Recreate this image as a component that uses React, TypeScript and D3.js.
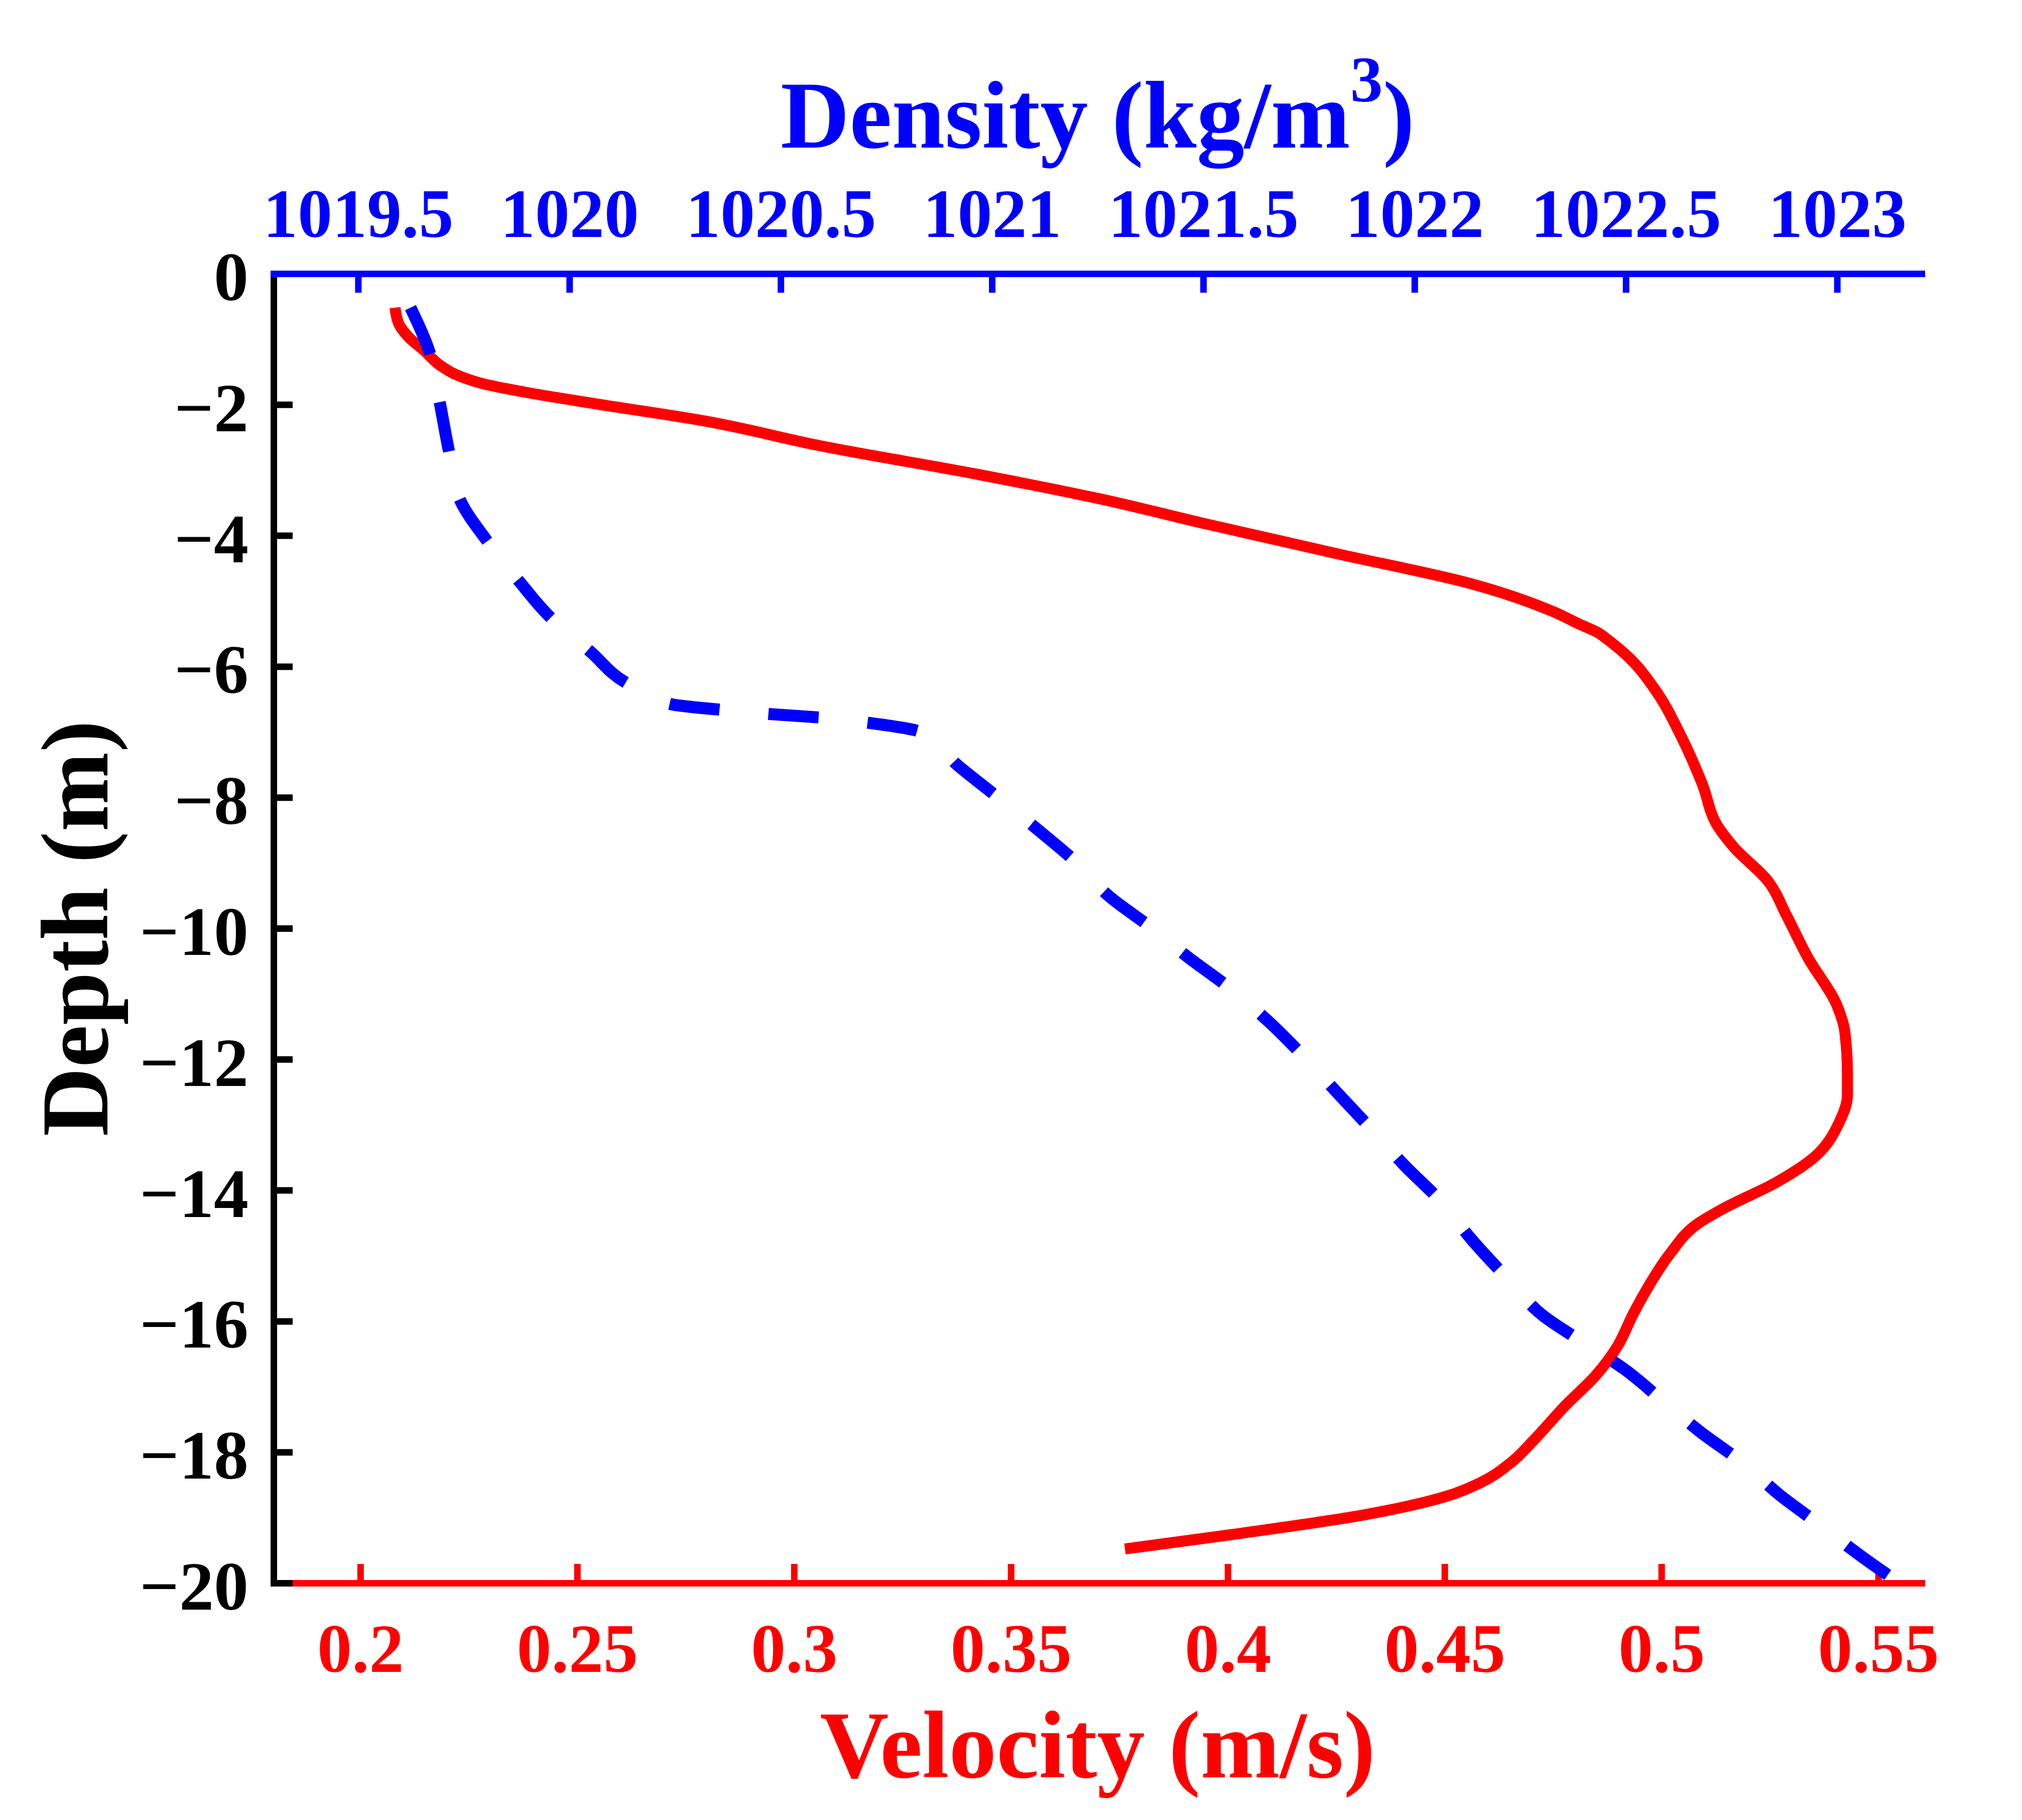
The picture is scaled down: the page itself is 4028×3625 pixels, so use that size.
import { useEffect, useRef } from 'react';
import * as d3 from 'd3';

// velocity profile (red, bottom axis)
const velocityDepth = [
  -0.52, -0.77, -0.98, -1.18, -1.4, -1.54, -1.68, -1.81, -1.97, -2.25, -2.63, -3.07, -3.44,
  -3.82, -4.28, -4.73, -5.17, -5.36, -5.47, -5.61, -5.85, -6.34, -7.06, -7.79, -8.44, -8.76, -9.28, -9.81,
  -10.45, -11.18, -11.58, -12.22, -12.55, -12.95, -13.51, -13.88, -14.28, -14.52, -14.96,
  -15.45, -15.89, -16.38, -16.82, -17.3, -17.83, -18.15, -18.47, -18.69, -18.96, -19.26, -19.48,
];
const velocityValues = [
  0.208, 0.2089, 0.2113, 0.2148, 0.2184, 0.222, 0.2282, 0.2379, 0.2525, 0.2793, 0.3061, 0.3427, 0.3705,
  0.3948, 0.4253, 0.4558, 0.4753, 0.4813, 0.485, 0.488, 0.4923, 0.4984, 0.5045, 0.5094, 0.513, 0.5167, 0.5246, 0.5289,
  0.5338, 0.5405, 0.5423, 0.5429, 0.5429, 0.5411, 0.535, 0.5265, 0.5143, 0.5082, 0.5021,
  0.4972, 0.4935, 0.4899, 0.485, 0.4777, 0.4704, 0.4655, 0.4582, 0.4497, 0.4314, 0.4009, 0.3763,
];

// density profile (blue dashed, top axis)
const densityDepth = [
  -0.52, -1.18, -1.96, -2.71, -3.48, -4.08, -4.69, -5.25, -5.77, -6.26, -6.58, -6.66, -6.73, -6.78,
  -6.87, -7.0, -7.51, -7.99, -8.48, -8.96, -9.52, -9.97, -10.45, -10.9, -11.42, -11.94, -12.51,
  -13.07, -13.64, -14.16, -14.76, -15.33, -15.92, -16.32, -16.74, -17.21, -17.71, -18.15, -18.67,
  -19.12, -19.58, -19.98,
];
const densityValues = [
  1019.624, 1019.668, 1019.693, 1019.715, 1019.743, 1019.805, 1019.88, 1019.955, 1020.049, 1020.137,
  1020.243, 1020.356, 1020.481, 1020.593, 1020.718, 1020.831, 1020.919, 1021.012, 1021.106, 1021.194,
  1021.279, 1021.373, 1021.466, 1021.56, 1021.654, 1021.735, 1021.817, 1021.898, 1021.979, 1022.061,
  1022.136, 1022.217, 1022.305, 1022.398, 1022.498, 1022.586, 1022.68, 1022.774, 1022.867, 1022.961,
  1023.055, 1023.143,
];

const depthTicks = [0, -2, -4, -6, -8, -10, -12, -14, -16, -18, -20];
const velocityTicks = [0.2, 0.25, 0.3, 0.35, 0.4, 0.45, 0.5, 0.55];
const densityTicks = [1019.5, 1020, 1020.5, 1021, 1021.5, 1022, 1022.5, 1023];

export default function App() {
  const ref = useRef<SVGSVGElement>(null);

  useEffect(() => {
    if (!ref.current) return;
    const svg = d3.select(ref.current);
    svg.selectAll('*').remove();

    const font = '"Liberation Serif", "Times New Roman", serif';
    const left = 545, right = 3828, top = 545, bottom = 3153;
    const tickFont = 138;
    const titleFont = 190;

    const x = d3.scaleLinear().domain([0.18, 0.56]).range([left, right]);
    const xd = d3.scaleLinear().domain([1019.3, 1023.2]).range([left, right]);
    const y = d3.scaleLinear().domain([0, -20]).range([top, bottom]);
    const fmt = d3.format('~g');

    const styleAxis = (g: d3.Selection<SVGGElement, unknown, null, undefined>, color: string) => {
      g.attr('font-family', font).attr('font-size', tickFont).attr('font-weight', 'bold');
      g.select('.domain').attr('stroke', color).attr('stroke-width', 13).attr('stroke-linecap', 'square');
      g.selectAll('.tick line').attr('stroke', color).attr('stroke-width', 13);
      g.selectAll('.tick text').attr('fill', color);
    };

    // bottom axis: velocity
    const gBottom = svg.append('g').attr('transform', `translate(0,${bottom})`);
    gBottom.call(
      d3.axisBottom(x).tickValues(velocityTicks).tickFormat((d) => fmt(d as number))
        .tickSizeInner(-38).tickSizeOuter(0).tickPadding(79)
    );
    styleAxis(gBottom, '#ff0000');

    // left axis: depth
    const gLeft = svg.append('g').attr('transform', `translate(${left},0)`);
    gLeft.call(
      d3.axisLeft(y).tickValues(depthTicks).tickFormat((d) => fmt(d as number))
        .tickSizeInner(-38).tickSizeOuter(0).tickPadding(50)
    );
    styleAxis(gLeft, '#000000');
    gLeft.selectAll('.tick text').attr('dy', '0.38em');

    // top axis: density
    const gTop = svg.append('g').attr('transform', `translate(0,${top})`);
    gTop.call(
      d3.axisTop(xd).tickValues(densityTicks).tickFormat((d) => fmt(d as number))
        .tickSizeInner(-38).tickSizeOuter(0).tickPadding(73)
    );
    styleAxis(gTop, '#0000ff');

    // velocity line
    const redLine = d3.line<number>()
      .x((_, i) => x(velocityValues[i]))
      .y((d) => y(d))
      .curve(d3.curveMonotoneY);
    svg.append('path')
      .attr('d', redLine(velocityDepth) || '')
      .attr('fill', 'none')
      .attr('stroke', '#ff0000')
      .attr('stroke-width', 22);

    // density line
    const blueLine = d3.line<number>()
      .x((_, i) => xd(densityValues[i]))
      .y((d) => y(d))
      .curve(d3.curveMonotoneY);
    svg.append('path')
      .attr('d', blueLine(densityDepth) || '')
      .attr('fill', 'none')
      .attr('stroke', '#0000ff')
      .attr('stroke-width', 24)
      .attr('stroke-dasharray', '100,98');

    // titles
    const cx = (left + right) / 2;
    const dTitle = svg.append('text')
      .attr('x', cx).attr('y', 294)
      .attr('text-anchor', 'middle')
      .attr('font-family', font).attr('font-weight', 'bold').attr('font-size', titleFont)
      .attr('fill', '#0000ff');
    dTitle.append('tspan').text('Density (kg/m');
    dTitle.append('tspan').attr('dy', -92).attr('font-size', 130).text('3');
    dTitle.append('tspan').attr('dy', 92).text(')');

    svg.append('text')
      .attr('x', cx).attr('y', 3540)
      .attr('text-anchor', 'middle')
      .attr('font-family', font).attr('font-weight', 'bold').attr('font-size', titleFont)
      .attr('fill', '#ff0000')
      .text('Velocity (m/s)');

    svg.append('text')
      .attr('transform', `translate(214,${(top + bottom) / 2}) rotate(-90)`)
      .attr('text-anchor', 'middle')
      .attr('font-family', font).attr('font-weight', 'bold').attr('font-size', titleFont)
      .attr('fill', '#000000')
      .text('Depth (m)');
  }, []);

  return (
    <svg
      ref={ref}
      width={4028}
      height={3625}
      style={{ position: 'absolute', left: 0, top: 0, background: '#ffffff' }}
    />
  );
}
